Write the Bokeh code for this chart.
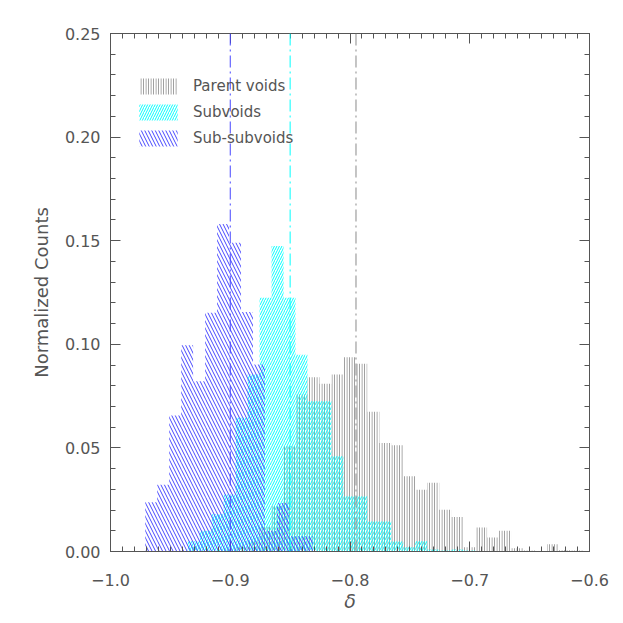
from bokeh.plotting import figure
from bokeh.models import (Range1d, SingleIntervalTicker, CustomJSTickFormatter, LinearAxis,
                          Span, ColumnDataSource)
from bokeh.embed import file_html
from bokeh.resources import INLINE

# ---------------- data ----------------
bin_width = 0.01

parent_left = [-0.9055, -0.8955, -0.8855, -0.8755, -0.8655, -0.8555, -0.8455, -0.8355,
               -0.8255, -0.8155, -0.8055, -0.7955, -0.7855, -0.7755, -0.7655, -0.7555,
               -0.7455, -0.7355, -0.7255, -0.7155, -0.7055, -0.6955, -0.6855, -0.6755,
               -0.6655, -0.6555, -0.6455, -0.6355, -0.6255, -0.6155]
parent_counts = [0.001, 0.002, 0.005, 0.012, 0.022, 0.0508, 0.0758, 0.0841,
                 0.081, 0.0854, 0.0938, 0.0906, 0.0674, 0.0524, 0.0513, 0.0363,
                 0.0298, 0.0332, 0.0201, 0.0166, 0.002, 0.0116, 0.0068, 0.010,
                 0.0016, 0.0005, 0.0, 0.0035, 0.0006, 0.0005]

sub_left = [-0.9355, -0.9255, -0.9155, -0.9055, -0.8955, -0.8855, -0.8755, -0.8655,
            -0.8555, -0.8455, -0.8355, -0.8255, -0.8155, -0.8055, -0.7955, -0.7855,
            -0.7755, -0.7655, -0.7555, -0.7455, -0.7355, -0.7255, -0.7155, -0.7055]
sub_counts = [0.005, 0.010, 0.018, 0.0275, 0.0645, 0.0854, 0.1225, 0.1475,
              0.1225, 0.095, 0.0725, 0.0725, 0.046, 0.0266, 0.0266, 0.0145,
              0.0145, 0.0048, 0.002, 0.005, 0.001, 0.0005, 0.001, 0.0005]

subsub_left = [-0.971, -0.961, -0.951, -0.941, -0.931, -0.921, -0.911, -0.901,
               -0.891, -0.881, -0.871, -0.861, -0.851, -0.841]
subsub_counts = [0.0238, 0.0322, 0.0656, 0.0995, 0.0822, 0.1152, 0.158, 0.149,
                 0.1156, 0.0903, 0.010, 0.0234, 0.0073, 0.0073]

series_names = ["Parent voids", "Subvoids", "Sub-subvoids"]
series_means = [-0.795, -0.85, -0.90]

x_tick_labels_fmt = 1
y_tick_labels_fmt = 2

# ---------------- style ----------------
TXT = "#555555"
FONT = "DejaVu Sans"
colors = ["#8a8a8a", "#00ffff", "#4646ff"]
patterns = ["vertical_line", "right_diagonal_line", "left_diagonal_line"]
scales = [2.5, 5, 7]
weights = [1, 1, 1]

p = figure(width=615, height=615, output_backend="svg", toolbar_location=None,
           x_range=Range1d(-1.0, -0.6), y_range=Range1d(0.0, 0.25),
           min_border_left=110, min_border_right=26, min_border_top=33, min_border_bottom=64,
           x_axis_location=None, y_axis_location=None)
p.grid.visible = False
p.outline_line_color = TXT
p.background_fill_color = "white"
p.border_fill_color = "white"

sets = [(parent_left, parent_counts), (sub_left, sub_counts), (subsub_left, subsub_counts)]
for (left, counts), name, col, pat, sc, w in zip(sets, series_names, colors, patterns, scales, weights):
    src = ColumnDataSource(dict(left=left, right=[l + bin_width for l in left],
                                top=counts, bottom=[0.0] * len(left)))
    p.quad(left="left", right="right", top="top", bottom="bottom", source=src,
           fill_color=None, line_color=None, hatch_pattern=pat, hatch_color=col,
           hatch_scale=sc, hatch_weight=w, legend_label=name)

for m, col in zip(series_means, colors):
    p.add_layout(Span(location=m, dimension="height", line_color=col, line_width=1,
                      line_dash="12 4 2 4"))

xfmt = CustomJSTickFormatter(code="return tick.toFixed(%d).replace('-', '\\u2212');" % x_tick_labels_fmt)
yfmt = CustomJSTickFormatter(code="return Math.abs(tick).toFixed(%d);" % y_tick_labels_fmt)
blank = CustomJSTickFormatter(code="return '';")


def style_axis(ax):
    ax.axis_line_color = TXT
    ax.major_tick_line_color = TXT
    ax.minor_tick_line_color = TXT
    ax.major_tick_in = 10
    ax.major_tick_out = 0
    ax.minor_tick_in = 5
    ax.minor_tick_out = 0
    ax.major_label_text_font = FONT
    ax.major_label_text_font_size = "16px"
    ax.major_label_text_color = TXT
    ax.axis_label_text_font = FONT
    ax.axis_label_text_color = TXT
    ax.axis_label_text_font_style = "normal"


xb = LinearAxis(ticker=SingleIntervalTicker(interval=0.1, num_minor_ticks=10), formatter=xfmt,
                axis_label="δ")
style_axis(xb)
xb.major_label_standoff = 22
xb.axis_label_standoff = 1
xb.axis_label_text_font_size = "19px"
xb.axis_label_text_font_style = "italic"
p.add_layout(xb, "below")

xt = LinearAxis(ticker=SingleIntervalTicker(interval=0.1, num_minor_ticks=10), formatter=blank)
style_axis(xt)
xt.major_label_standoff = 0
p.add_layout(xt, "above")

yl = LinearAxis(ticker=SingleIntervalTicker(interval=0.05, num_minor_ticks=5), formatter=yfmt,
                axis_label="Normalized Counts")
style_axis(yl)
yl.major_label_standoff = 10
yl.axis_label_standoff = 10
yl.axis_label_text_font_size = "18px"
p.add_layout(yl, "left")

yr = LinearAxis(ticker=SingleIntervalTicker(interval=0.05, num_minor_ticks=5), formatter=blank)
style_axis(yr)
yr.major_label_standoff = 0
p.add_layout(yr, "right")

lg = p.legend[0]
lg.location = (24, 403)
lg.border_line_color = None
lg.background_fill_alpha = 0
lg.glyph_width = 48
lg.glyph_height = 20
lg.label_height = 20
lg.spacing = 6
lg.padding = 0
lg.margin = 0
lg.label_standoff = 11
lg.label_text_font = FONT
lg.label_text_font_size = "15px"
lg.label_text_color = TXT

open("out.html", "w").write(file_html(p, INLINE))
